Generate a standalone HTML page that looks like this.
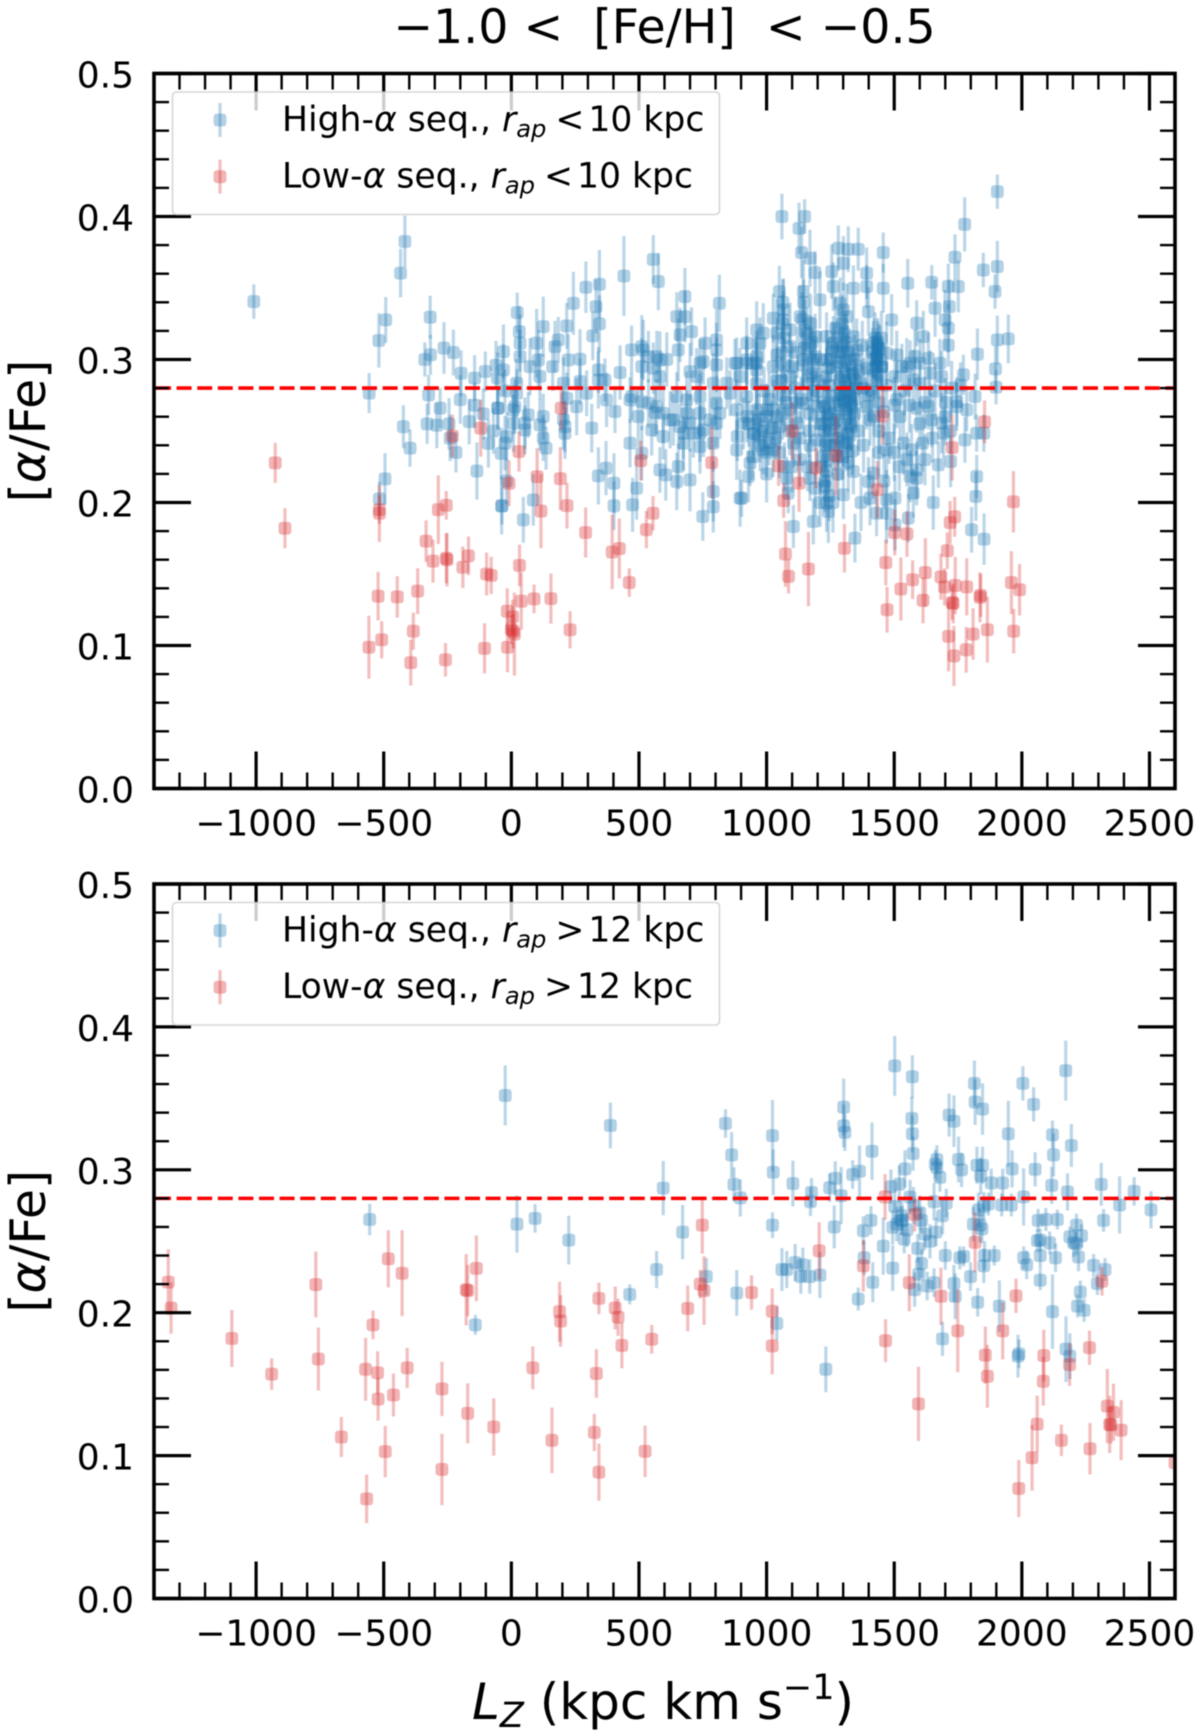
<!DOCTYPE html>
<html lang="en">
<head>
<meta charset="utf-8">
<title>[alpha/Fe] versus Lz</title>
<style>
html,body{margin:0;padding:0;background:#fff;width:1200px;height:1733px;overflow:hidden}
svg{display:block;filter:blur(.5px)}
text{font-family:"DejaVu Sans","Liberation Sans",sans-serif;fill:#000}
</style>
</head>
<body>
<svg id="chart" xmlns="http://www.w3.org/2000/svg" width="1200" height="1733" viewBox="0 0 1200 1733">
<defs>
<clipPath id="clip-top"><rect x="154" y="73.5" width="1021" height="715"/></clipPath>
<clipPath id="clip-bottom"><rect x="154" y="884" width="1021" height="714.5"/></clipPath>
</defs>
<rect width="1200" height="1733" fill="#fff"/>
<text x="664.5" y="43" font-size="47.4" text-anchor="middle" xml:space="preserve">−1.0 &lt;  [Fe/H]  &lt; −0.5</text>
<g id="top-panel"></g>
<g id="bottom-panel"></g>
<text x="663" y="1719" font-size="50" text-anchor="middle"><tspan font-style="italic">L</tspan><tspan font-style="italic" font-size="35" dy="8">Z</tspan><tspan dy="-8"> (kpc km s</tspan><tspan font-size="35" dy="-20">−1</tspan><tspan dy="20">)</tspan></text>
</svg>
<script>
// ---------- axis definitions ----------
const xMajorTicks = [-1000, -500, 0, 500, 1000, 1500, 2000, 2500];
const xMinorTicks = [-1300, -1200, -1100, -900, -800, -700, -600, -400, -300, -200, -100, 100, 200, 300, 400, 600, 700, 800, 900, 1100, 1200, 1300, 1400, 1600, 1700, 1800, 1900, 2100, 2200, 2300, 2400];
const xTickLabels = ['−1000', '−500', '0', '500', '1000', '1500', '2000', '2500'];
const yMajorTicks = [0.0, 0.1, 0.2, 0.3, 0.4, 0.5];
const yMinorTicks = [0.02, 0.04, 0.06, 0.08, 0.12, 0.14, 0.16, 0.18, 0.22, 0.24, 0.26, 0.28, 0.32, 0.34, 0.36, 0.38, 0.42, 0.44, 0.46, 0.48];
const yTickLabels = ['0.0', '0.1', '0.2', '0.3', '0.4', '0.5'];
const xDomain = [-1400, 2600];
const yDomain = [0, 0.5];
const thresholdAlpha = [0.28];

// ---------- top panel: high-alpha, r_ap < 10 kpc ----------
const topHighLz = [
-1009,-434,-417,-519,-492,-557,-318,-339,-317,-264,
-227,-197,-324,-144,-102,-279,-54,-54,-144,-517,
-495,-423,-397,-330,-292,-244,-240,-217,-165,-135,
-90,-52,-40,-19,-37,-200,-70,-110,-25,-60,
23,31,34,-31,99,125,184,171,217,243,
292,345,332,345,319,441,556,576,162,223,
269,341,426,367,471,511,537,582,654,648,
680,680,706,661,815,759,804,804,752,922,
961,876,948,700,556,217,295,373,406,256,
8,66,112,53,125,136,210,315,-25,465,
497,563,622,550,595,674,739,804,739,883,
922,948,465,511,341,371,402,402,86,47,
-38,491,475,582,605,654,648,700,791,791,
750,896,935,929,-31,21,73,112,34,106,
204,269,341,21,14,125,53,8,-18,204,
210,511,582,609,517,570,471,511,537,569,
595,635,661,700,713,752,778,817,857,896,
883,922,961,922,961,909,726,739,804,791,
844,739,687,648,804,883,739,687,791,885,
674,1050,1137,1170,1190,1144,1255,1261,1340,1392,
1392,1281,1320,1359,1301,1457,1457,1553,1647,1712,
1751,1738,1849,1904,1895,1904,1947,1826,1897,1899,
1771,1817,1745,1784,1823,1851,1679,1686,1588,1614,
1660,1716,1712,1712,1699,1301,1314,1288,1399,1490,
1209,1066,1026,987,974,1040,1066,1092,1131,1157,
1190,1170,1235,1261,1268,1301,1340,1353,1314,1275,
1235,1190,1144,1092,1040,961,922,961,1026,1092,
1177,1235,1327,1346,1288,1418,1444,1431,1451,1418,
1470,1392,1510,1503,1562,1549,1581,1601,1575,1634,
1640,961,1000,974,987,1026,1052,1026,1092,1118,
1105,1144,1196,1229,1235,1248,1196,1222,1170,1229,
1235,1242,1301,1340,1320,1333,1333,1301,1327,1392,
1405,1457,1523,1536,1568,1611,1588,1634,1647,1686,
1693,1745,1777,1470,1418,1399,1405,1470,1503,1562,
1588,1588,1575,1673,1721,1823,1820,1653,1470,1431,
1555,1503,1183,1105,1346,1803,1852,1079,1085,902,
1060,1127,1149,1904,1776,1296,1305,1310,1295,1288,
1318,1325,1300,1315,1290,1305,1322,1330,1318,1308,
1295,1320,1335,1282,1270,1258,1250,1240,1345,1338,
1352,1360,1064,1062,1068,1060,1070,1058,1066,1062,
1145,1140,1150,1148,1142,1172,1178,1182,1175,1180,
1170,1168,930,950,970,990,1010,1020,1000,975,
945,1035,1425,1435,1445,1428,1438,1420,1450,1432,
1225,1230,1240,1235,1228,1245,1250,1215,1100,1115,
1120,1205,1210,1380,1375,1400,1510,1530,960,990,
1010,1040,1075,1110,1135,1160,1200,1222,1245,1270,
1285,1345,1370,1410,1440,1470,1500,1540,1560,1600,
1620,1660,1700,1725,1760,1000,1040,1090,1130,1170,
1210,1260,1280,1360,1380,1420,1440,1480,1500,1520,
1550,1600,1620,1650,1700,1720,1100,1130,1160,1190,
1210,1260,1280,1370,1440,1460,1050,1070,1000,1265,
1275,1290,1300,1312,1330,1345,1265,1280,1250,1240,
1225,1300,1320,1420,1430,1440,1450,1415,1435
];
const topHighAlpha = [
.3405,.3604,.3825,.3133,.3277,.2765,.3296,.3,.3033,.308,
.3049,.2904,.2753,.287,.2916,.266,.287,.266,.268,.2025,
.2165,.253,.238,.255,.254,.255,.245,.235,.2566,.222,
.2414,.266,.2344,.215,.1976,.272,.25,.262,.278,.296,
.3328,.3195,.3114,.3055,.3114,.323,.3137,.309,.3235,.3393,
.3505,.3526,.337,.3249,.3165,.3584,.37,.3545,.295,.2997,
.3002,.2927,.2909,.2857,.3067,.309,.302,.2997,.3067,.33,
.344,.33,.3195,.3172,.3393,.3114,.3137,.2962,.2985,.3114,
.3207,.2974,.2974,.2915,.2939,.2729,.2764,.2717,.2636,.267,
.2648,.2613,.2543,.2508,.245,.238,.2484,.252,.2415,.2717,
.2601,.2629,.2578,.2508,.2461,.2484,.2484,.2555,.2391,.2368,
.2601,.2484,.2415,.2345,.2186,.224,.2135,.1977,.2018,.1879,
.1977,.21,.1984,.2228,.2193,.2252,.2147,.2158,.2077,.197,
.1902,.203,.2275,.2182,.2927,.2834,.295,.2881,.302,.2997,
.2834,.2846,.2857,.2764,.2671,.2601,.2554,.2554,.2461,.2578,
.2531,.295,.288,.3,.3067,.302,.2741,.2706,.2694,.2671,
.2624,.2578,.2531,.2555,.2484,.2508,.2578,.2624,.2764,.2881,
.2974,.2997,.2974,.2741,.2648,.2554,.288,.2974,.3067,.2834,
.2834,.2741,.2717,.2741,.2694,.2648,.2624,.2624,.2415,.2461,
.2415,.3475,.3748,.3708,.3608,.3475,.3615,.351,.3498,.3603,
.351,.3778,.3771,.3771,.3673,.3748,.3498,.3533,.354,.351,
.351,.3715,.3626,.365,.3475,.3137,.3144,.3037,.2934,.2806,
.2893,.2741,.2706,.2648,.2485,.2485,.2974,.2881,.3254,.316,
.3358,.337,.3219,.31,.3277,.3347,.33,.3393,.3335,.3277,
.3417,.3347,.3289,.3184,.3114,.3184,.3277,.3207,.33,.3184,
.316,.3102,.316,.3114,.3056,.3091,.316,.3067,.2997,.295,
.2997,.302,.2997,.3091,.3032,.302,.2974,.2927,.295,.2881,
.2904,.2881,.2904,.2857,.2857,.3067,.3067,.3009,.295,.2927,
.3044,.2939,.3032,.2881,.2974,.295,.3021,.2974,.2858,.3009,
.2904,.2555,.2601,.2461,.2368,.2648,.2531,.2368,.2648,.2555,
.2415,.2694,.2671,.2671,.2601,.2508,.2438,.2322,.217,.2112,
.1995,.1937,.2054,.2217,.2415,.2531,.2671,.2718,.2741,.2671,
.2578,.2636,.2601,.2415,.2368,.2415,.2659,.2671,.2578,.2555,
.2485,.2671,.2438,.2368,.2205,.2147,.203,.2019,.203,.2182,
.2228,.217,.2065,.2263,.2287,.2182,.2042,.2,.1925,.1925,
.1891,.1844,.1867,.1832,.1751,.1809,.1744,.217,.2065,.203,
.4,.3917,.4,.4174,.3945,.325,.318,.312,.305,.298,
.305,.296,.288,.282,.276,.27,.262,.255,.248,.24,
.232,.228,.236,.316,.322,.308,.3,.294,.3,.29,
.28,.292,.34,.325,.315,.305,.296,.285,.275,.262,
.34,.328,.32,.308,.296,.325,.312,.3,.288,.275,
.262,.25,.255,.248,.258,.25,.242,.252,.235,.24,
.232,.245,.315,.31,.3,.295,.29,.312,.315,.285,
.25,.24,.23,.222,.215,.205,.24,.225,.295,.27,
.305,.285,.3,.28,.31,.275,.272,.295,.283,.278,
.272,.285,.27,.28,.272,.283,.278,.27,.282,.275,
.268,.272,.283,.278,.27,.282,.268,.278,.268,.283,
.27,.278,.27,.28,.282,.265,.26,.25,.245,.24,
.255,.255,.245,.25,.24,.26,.25,.245,.235,.225,
.23,.255,.23,.245,.26,.25,.225,.23,.225,.21,
.2,.2,.22,.2,.235,.215,.235,.225,.22,.27,
.258,.25,.242,.265,.27,.262,.24,.232,.262,.262,
.255,.275,.278,.3,.302,.308,.295,.305,.312
];
const topHighErr = [
.012,.017,.018,.019,.016,.014,.015,.012,.014,.018,
.016,.016,.014,.016,.014,.014,.018,.015,.016,.012,
.018,.015,.013,.014,.016,.018,.016,.014,.016,.02,
.017,.015,.018,.016,.013,.017,.016,.018,.015,.017,
.014,.018,.02,.019,.024,.021,.016,.018,.016,.022,
.018,.024,.019,.02,.017,.028,.017,.02,.017,.018,
.021,.016,.019,.015,.017,.022,.018,.02,.022,.017,
.02,.018,.017,.019,.02,.018,.021,.019,.016,.018,
.02,.017,.019,.02,.018,.018,.016,.019,.015,.02,
.017,.016,.018,.017,.016,.015,.018,.017,.019,.016,
.021,.017,.02,.018,.016,.018,.02,.017,.019,.021,
.018,.016,.017,.019,.02,.019,.021,.017,.018,.016,
.02,.022,.019,.016,.018,.016,.02,.022,.021,.018,
.017,.02,.016,.018,.018,.017,.02,.016,.019,.021,
.018,.016,.02,.017,.019,.016,.018,.02,.017,.021,
.018,.02,.017,.019,.021,.018,.016,.02,.017,.019,
.021,.018,.016,.02,.017,.019,.021,.018,.016,.02,
.018,.017,.019,.021,.016,.018,.02,.017,.019,.021,
.018,.016,.02,.017,.019,.021,.018,.016,.02,.017,
.019,.018,.018,.02,.015,.022,.019,.017,.016,.018,
.015,.016,.016,.015,.019,.014,.017,.017,.012,.016,
.018,.016,.012,.018,.012,.017,.017,.018,.016,.012,
.014,.016,.017,.015,.013,.013,.017,.018,.016,.018,
.02,.019,.017,.015,.021,.019,.023,.018,.017,.018,
.02,.022,.017,.021,.018,.024,.02,.019,.022,.018,
.016,.021,.017,.019,.02,.016,.018,.022,.019,.017,
.021,.018,.02,.016,.021,.018,.017,.019,.022,.018,
.016,.02,.017,.019,.018,.02,.017,.021,.016,.018,
.022,.019,.017,.018,.016,.02,.019,.017,.021,.018,
.016,.019,.02,.018,.017,.021,.016,.019,.018,.02,
.017,.022,.016,.018,.02,.017,.019,.021,.016,.018,
.02,.022,.017,.016,.019,.021,.018,.017,.02,.016,
.018,.019,.017,.022,.018,.02,.017,.016,.019,.021,
.018,.017,.016,.02,.018,.017,.019,.021,.016,.018,
.02,.019,.017,.016,.018,.015,.017,.019,.021,.016,
.017,.018,.016,.015,.017,.016,.018,.015,.014,.013,
.016,.018,.012,.012,.019,.02,.016,.02,.018,.022,
.019,.017,.021,.016,.018,.02,.017,.019,.021,.018,
.016,.02,.017,.019,.022,.018,.016,.02,.017,.019,
.021,.018,.016,.02,.022,.018,.02,.017,.021,.018,
.016,.019,.022,.02,.017,.021,.018,.02,.017,.019,
.021,.018,.016,.02,.018,.017,.016,.019,.017,.018,
.016,.015,.018,.017,.016,.02,.018,.017,.019,.021,
.018,.016,.02,.019,.017,.018,.016,.02,.017,.019,
.018,.016,.02,.021,.017,.018,.02,.016,.018,.017,
.019,.017,.02,.018,.016,.019,.021,.017,.018,.02,
.016,.019,.017,.021,.018,.016,.02,.017,.019,.016,
.018,.02,.017,.019,.016,.018,.021,.017,.019,.02,
.016,.018,.02,.017,.019,.021,.016,.018,.02,.017,
.019,.016,.018,.017,.02,.016,.018,.019,.017,.019,
.017,.021,.018,.02,.016,.019,.018,.017,.02,.016,
.019,.018,.017,.02,.016,.019,.018,.017,.02
];

// ---------- top panel: low-alpha, r_ap < 10 kpc ----------
const topLowLz = [
-925,-887,-517,-517,-558,-508,-522,-447,-367,-384,
-394,-334,-307,-286,-255,-255,-252,-168,-190,-258,
-97,-79,-105,32,39,-16,5,0,8,12,
-15,89,155,230,-9,30,101,116,192,218,
195,-120,-231,291,395,423,462,529,555,507,
1074,1086,1067,1164,1305,1467,1472,1526,1572,1622,
1613,1502,1550,1683,1697,1708,1719,1737,1727,1731,
1739,1784,1713,1734,1782,1809,1839,1836,1865,1967,
1959,1991,1968,785,1101,1047,1127,1194,1272,1434,
1454,1854,1727
];
const topLowAlpha = [
.2277,.182,.195,.1925,.0988,.104,.1345,.134,.138,.11,
.088,.173,.159,.195,.198,.161,.16,.1627,.1547,.09,
.15,.149,.098,.156,.131,.124,.12,.111,.11,.108,
.0988,.1326,.1328,.111,.2134,.2356,.218,.194,.2167,.1978,
.2659,.252,.2465,.179,.1654,.1678,.144,.181,.1925,.2293,
.164,.1484,.2013,.1535,.168,.158,.125,.1395,.146,.151,
.1316,.179,.178,.148,.141,.1663,.186,.19,.13,.1295,
.142,.141,.1064,.0927,.097,.108,.135,.1337,.111,.2005,
.144,.139,.11,.2279,.25,.2256,.2135,.224,.2328,.209,
.2606,.2564,.2384
];
const topLowErr = [
.014,.014,.01,.02,.022,.013,.017,.0145,.016,.013,
.016,.0145,.015,.024,.01,.0175,.0187,.0135,.0145,.0117,
.015,.013,.0175,.0145,.02,.016,.012,.01,.012,.029,
.0175,.01,.0175,.013,.016,.014,.02,.026,.022,.016,
.015,.02,.015,.0175,.026,.021,.01,.013,.012,.014,
.023,.012,.012,.026,.017,.016,.016,.022,.0135,.024,
.016,.016,.016,.016,.013,.0128,.015,.014,.012,.014,
.02,.02,.0245,.021,.016,.018,.015,.0175,.023,.0215,
.022,.018,.0156,.025,.02,.014,.02,.014,.028,.02,
.02,.015,.023
];

// ---------- bottom panel: high-alpha, r_ap > 12 kpc ----------
const bottomHighLz = [
-555,-24,22,93,225,-141,388,464,569,595,
671,764,839,863,872,897,883,1023,1026,1023,
1040,1103,1060,1079,1112,1142,1134,1169,1209,1176,
1172,1247,1269,1292,1265,1232,1302,1302,1307,1337,
1364,1413,1359,1382,1379,1409,1416,1457,1494,1502,
1571,1569,1571,1574,1542,1487,1502,1524,1532,1494,
1539,1562,1592,1607,1607,1596,1580,1629,1656,1661,
1667,1667,1679,1656,1704,1689,1664,1700,1734,1739,
1689,1715,1734,1752,1764,1757,1772,1799,1827,1814,
1817,1846,1824,1846,1839,1880,1925,1962,1947,1851,
1869,1921,1959,1836,1844,1854,1851,1892,1912,2007,
2004,2046,2052,2120,2124,2117,2179,2172,2194,2064,
2094,2139,2061,2072,2109,2132,2072,2007,2019,2072,
2120,1985,1989,2173,2188,2214,2234,2188,2203,2214,
2222,2281,2296,2326,2229,2218,2244,2311,2320,2383,
2440,2506,1510,1530,1550,1575,1600,1620,1520,1640,
1810,1830
];
const bottomHighAlpha = [
.2652,.352,.262,.266,.2508,.1915,.331,.2128,.2302,.2872,
.2564,.2253,.3324,.3104,.2898,.2803,.2138,.3239,.2983,.2613,
.1925,.2904,.2302,.2302,.2351,.2335,.2253,.2253,.2263,.2842,
.2777,.2875,.294,.2819,.26,.1604,.3438,.3307,.3262,.2967,
.299,.313,.2096,.2384,.2574,.2646,.2213,.2466,.2312,.3727,
.3651,.336,.3252,.3114,.3006,.2882,.2744,.2646,.2646,.2597,
.2515,.2809,.245,.2646,.2344,.2269,.2161,.2187,.221,.3039,
.3072,.3016,.2947,.2777,.2767,.2679,.2564,.24,.2204,.2115,
.1817,.3383,.334,.3072,.3,.2384,.2394,.2253,.2073,.3605,
.3474,.3425,.3032,.3032,.2957,.2908,.2908,.3006,.3252,.2744,
.276,.2754,.2754,.2613,.2587,.24,.2328,.24,.2046,.281,
.3605,.3458,.3003,.3245,.3104,.2891,.2845,.3694,.317,.2646,
.2652,.2652,.2505,.2508,.2489,.2384,.24,.2384,.2335,.2227,
.2007,.1696,.1712,.1745,.1696,.2613,.2538,.2531,.2489,.2482,
.239,.2331,.2204,.2302,.2145,.2046,.2017,.2898,.2646,.2754,
.2849,.272,.262,.268,.258,.275,.27,.255,.29,.25,
.262,.272
];
const bottomHighErr = [
.011,.021,.02,.01,.017,.007,.016,.007,.013,.019,
.019,.013,.01,.016,.012,.013,.016,.025,.016,.009,
.012,.016,.015,.013,.013,.012,.012,.012,.016,.01,
.01,.01,.012,.02,.015,.016,.02,.015,.013,.01,
.018,.02,.008,.012,.01,.01,.014,.02,.016,.021,
.015,.015,.013,.012,.013,.012,.012,.01,.01,.012,
.01,.012,.01,.009,.01,.012,.012,.01,.01,.01,
.01,.01,.01,.013,.01,.013,.01,.01,.013,.016,
.012,.015,.018,.016,.012,.008,.007,.01,.01,.016,
.016,.018,.013,.013,.013,.01,.01,.013,.023,.01,
.008,.008,.008,.012,.01,.01,.012,.007,.018,.02,
.012,.012,.012,.01,.015,.013,.013,.021,.015,.008,
.008,.007,.008,.008,.008,.01,.01,.008,.01,.007,
.026,.015,.01,.023,.016,.008,.008,.007,.01,.008,
.01,.008,.008,.008,.008,.008,.008,.015,.008,.02,
.01,.013,.012,.011,.012,.013,.012,.011,.013,.012,
.012,.012
];

// ---------- bottom panel: low-alpha, r_ap > 12 kpc ----------
const bottomLowLz = [
-1344,-1333,-1095,-939,-766,-756,-666,-571,-567,-542,
-524,-522,-494,-482,-462,-428,-408,-272,-272,-171,
-177,-171,-137,-69,84,159,189,193,325,343,
343,333,407,418,433,524,550,691,740,
748,755,941,1022,1022,1206,1379,1464,1466,1559,
1580,1595,1683,1749,1817,1857,1865,1925,1977,1988,
2040,2060,2084,2086,2155,2187,2267,2265,2314,2335,
2359,2344,2349,2389,2600
];
const bottomLowAlpha = [
.2214,.2033,.182,.157,.2197,.1676,.113,.1604,.0697,.1915,
.158,.1395,.1028,.2377,.1424,.2276,.1614,.1467,.0903,.1296,
.216,.2155,.231,.12,.1614,.1107,.2007,.1942,.1162,.0884,
.21,.1575,.2033,.1968,.1771,.103,.1814,.203,.22,
.2613,.2155,.2141,.201,.1768,.2433,.2328,.281,.1804,.221,
.2688,.1362,.2115,.1873,.2492,.1703,.1555,.1873,.2118,.077,
.0985,.122,.152,.17,.1107,.1637,.1048,.1755,.222,.1346,
.1303,.1218,.1215,.1178,.095
];
const bottomLowErr = [
.023,.018,.02,.011,.023,.022,.014,.022,.017,.01,
.015,.015,.018,.02,.015,.03,.014,.019,.025,.021,
.025,.018,.023,.02,.015,.023,.021,.018,.013,.02,
.011,.017,.015,.013,.016,.018,.01,.016,.01,
.02,.024,.012,.016,.02,.02,.018,.016,.015,.02,
.012,.026,.02,.029,.021,.02,.022,.02,.012,.02,
.023,.02,.017,.018,.011,.015,.018,.012,.01,.026,
.02,.02,.013,.021,.012
];

// ---------- legend strings ----------
const topLegendCut = ['<', '10'];
const bottomLegendCut = ['>', '12'];

// ---------- drawing ----------
const NS = 'http://www.w3.org/2000/svg';
const plotLeft = 154, plotRight = 1175;
const BLUE = '#1f77b4', RED = '#d62728';

function make(tag, attrs, parent) {
  const el = document.createElementNS(NS, tag);
  for (const k in attrs) el.setAttribute(k, attrs[k]);
  parent.appendChild(el);
  return el;
}
function xScale(v) {
  return plotLeft + (v - xDomain[0]) / (xDomain[1] - xDomain[0]) * (plotRight - plotLeft);
}

function drawSeries(root, clipId, yScale, lz, alpha, err, color, seriesName) {
  const group = make('g', {'clip-path': 'url(#' + clipId + ')'}, root);
  
  
  for (let i = 0; i < lz.length; i++) {
    const e = err[i] || 0.017;
    const x = xScale(lz[i]);
    const bar = make('line', {x1: x, x2: x, y1: yScale(alpha[i] + e), y2: yScale(alpha[i] - e), stroke: color, 'stroke-width': 3.2, 'stroke-opacity': 0.3}, group);
    
    
    const pt = make('rect', {x: x - 6.4, y: yScale(alpha[i]) - 6.4, width: 12.8, height: 12.8, rx: 3.2, fill: color, 'fill-opacity': 0.34}, group);
    
    
  }
}

function drawLegendEntry(g, color, label, cut, baseY, markerY) {
  const bar = make('line', {x1: 220, x2: 220, y1: markerY - 17, y2: markerY + 17, stroke: color, 'stroke-width': 3.2, 'stroke-opacity': 0.3}, g);
  
  
  const m = make('rect', {x: 213.6, y: markerY - 6.4, width: 12.8, height: 12.8, rx: 3.2, fill: color, 'fill-opacity': 0.34}, g);
  
  
  const t = make('text', {x: 282, y: baseY, 'font-size': 34.6}, g);
  
  
  const parts = [
    [label + '-', {}],
    ['α', {'font-style': 'italic'}],
    [' seq., ', {}],
    ['r', {'font-style': 'italic'}],
    ['ap', {'font-style': 'italic', 'font-size': 24.2, dy: 6}],
    [cut[0], {dy: -6, dx: 9}],
    [cut[1] + ' kpc', {dx: 4}]
  ];
  parts.forEach(function (p) {
    const s = make('tspan', p[1], t);
    s.textContent = p[0];
  });
}

function drawPanel(root, clipId, top, bottom, high, low, cut, highName, lowName) {
  const yScale = function (v) { return bottom - (v - yDomain[0]) / (yDomain[1] - yDomain[0]) * (bottom - top); };

  drawSeries(root, clipId, yScale, high[0], high[1], high[2], BLUE, highName);
  drawSeries(root, clipId, yScale, low[0], low[1], low[2], RED, lowName);

  const ref = make('line', {x1: plotLeft + 2, x2: plotRight - 2, y1: yScale(thresholdAlpha[0]), y2: yScale(thresholdAlpha[0]), stroke: '#ff0000', 'stroke-width': 3.6, 'stroke-dasharray': '15 5.6'}, root);
  
  

  const ticks = make('g', {stroke: '#000'}, root);
  
  
  xMajorTicks.forEach(function (v) {
    const x = xScale(v);
    make('line', {x1: x, x2: x, y1: bottom, y2: bottom - 37, 'stroke-width': 3.2}, ticks);
    make('line', {x1: x, x2: x, y1: top, y2: top + 37, 'stroke-width': 3.2}, ticks);
  });
  xMinorTicks.forEach(function (v) {
    const x = xScale(v);
    make('line', {x1: x, x2: x, y1: bottom, y2: bottom - 16, 'stroke-width': 2.4}, ticks);
    make('line', {x1: x, x2: x, y1: top, y2: top + 16, 'stroke-width': 2.4}, ticks);
  });
  yMajorTicks.forEach(function (v) {
    const y = yScale(v);
    make('line', {x1: plotLeft, x2: plotLeft + 37, y1: y, y2: y, 'stroke-width': 3.2}, ticks);
    make('line', {x1: plotRight, x2: plotRight - 37, y1: y, y2: y, 'stroke-width': 3.2}, ticks);
  });
  yMinorTicks.forEach(function (v) {
    const y = yScale(v);
    make('line', {x1: plotLeft, x2: plotLeft + 15, y1: y, y2: y, 'stroke-width': 2.4}, ticks);
    make('line', {x1: plotRight, x2: plotRight - 15, y1: y, y2: y, 'stroke-width': 2.4}, ticks);
  });

  const frame = make('rect', {x: plotLeft, y: top, width: plotRight - plotLeft, height: bottom - top, fill: 'none', stroke: '#000', 'stroke-width': 3.6}, root);
  
  

  xMajorTicks.forEach(function (v, i) {
    const t = make('text', {x: xScale(v), y: bottom + 47, 'font-size': 36, 'text-anchor': 'middle'}, root);
    
    
    t.textContent = xTickLabels[i];
  });
  yMajorTicks.forEach(function (v, i) {
    const t = make('text', {x: 134, y: yScale(v) + 14, 'font-size': 36, 'text-anchor': 'end'}, root);
    
    
    t.textContent = yTickLabels[i];
  });

  const cy = (top + bottom) / 2;
  const yTitle = make('text', {x: 0, y: 0, 'font-size': 49, 'text-anchor': 'middle', transform: 'translate(45 ' + cy + ') rotate(-90)'}, root);
  
  
  [['[', {}], ['α', {'font-style': 'italic'}], ['/Fe]', {}]].forEach(function (p) {
    const s = make('tspan', p[1], yTitle);
    s.textContent = p[0];
  });

  const legend = make('g', {}, root);
  
  
  const d = top - 73.5;
  const box = make('rect', {x: 172.5, y: 92 + d, width: 547, height: 122.5, rx: 4, fill: '#fff', 'fill-opacity': 0.8, stroke: '#ccc', 'stroke-opacity': 0.8, 'stroke-width': 1.6}, legend);
  
  
  drawLegendEntry(legend, BLUE, 'High', cut, 131 + d, 120 + d);
  drawLegendEntry(legend, RED, 'Low', cut, 187.5 + d, 176.7 + d);
}

drawPanel(document.getElementById('top-panel'), 'clip-top', 73.5, 788.5,
  [topHighLz, topHighAlpha, topHighErr], [topLowLz, topLowAlpha, topLowErr], topLegendCut,
  'series-high-alpha-inner', 'series-low-alpha-inner');
drawPanel(document.getElementById('bottom-panel'), 'clip-bottom', 884, 1598.5,
  [bottomHighLz, bottomHighAlpha, bottomHighErr], [bottomLowLz, bottomLowAlpha, bottomLowErr], bottomLegendCut,
  'series-high-alpha-outer', 'series-low-alpha-outer');
</script>
</body>
</html>
